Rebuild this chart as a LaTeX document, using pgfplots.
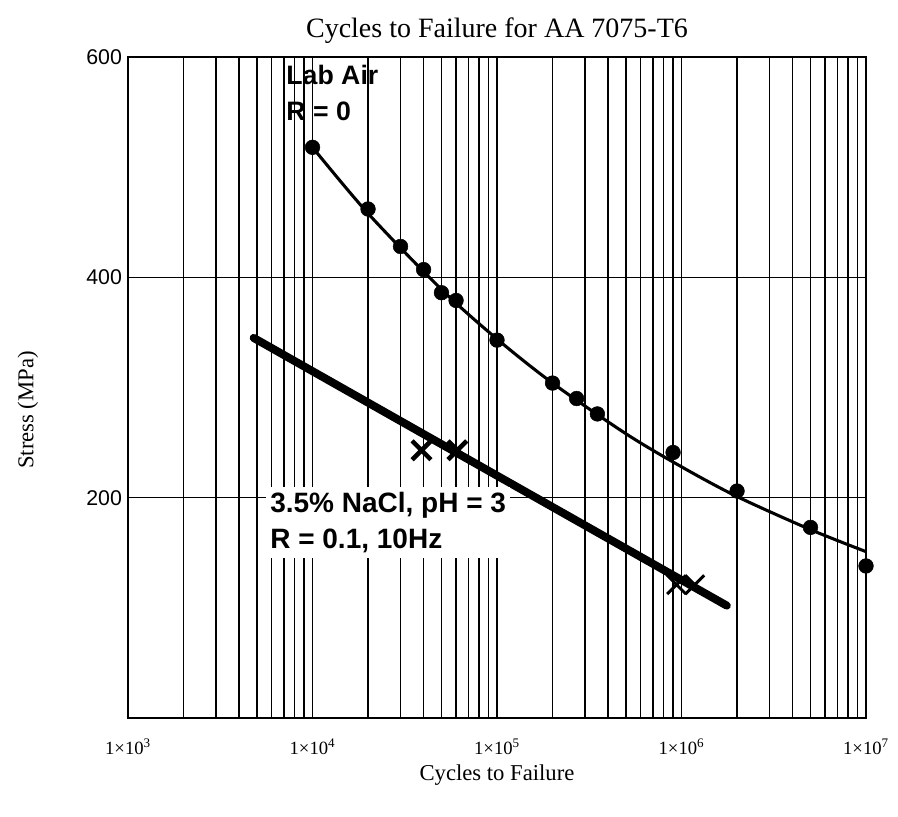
\documentclass[border=0pt]{standalone}
\usepackage{pgfplots}
\pgfplotsset{compat=1.18}
\usepackage{fontspec}
\setmainfont{Liberation Serif}
\setsansfont{Liberation Sans}

% fatigue data, lab air, R = 0
\pgfplotstableread{
N       S
1e4     518
2e4     462
3e4     428
4e4     407
5e4     386
6e4     379
1e5     343
2e5     304
2.7e5   290
3.5e5   276
9e5     241
2e6     206
5e6     173
1e7     138
}\labair

% power-law fit through the lab air data
\pgfplotstableread{
N       S
1e4     518
2e4     458
5e4     389
1e5     344
2e5     304
5e5     258
1e6     228
2e6     201
5e6     171
1e7     151
}\labairfit

% corrosion fatigue trend, 3.5% NaCl
\pgfplotstableread{
N       S
4.8e3   345
1e5     220
1.76e6  102
}\naclfit

% failures in 3.5% NaCl
\pgfplotstableread{
N       S
3.9e4   243
6.1e4   243
}\naclhigh
\pgfplotstableread{
N       S
9.4e5   121
1.18e6  121
}\nacllow

\begin{document}
\begin{tikzpicture}
\begin{axis}[
  scale only axis,
  width=553.5pt, height=495.75pt,
  xmode=log,
  xmin=1e3, xmax=1e7,
  ymin=0, ymax=600,
  log basis x=10,
  xtick={1e3,1e4,1e5,1e6,1e7},
  minor xtick={2e3,3e3,4e3,5e3,6e3,7e3,8e3,9e3,
               2e4,3e4,4e4,5e4,6e4,7e4,8e4,9e4,
               2e5,3e5,4e5,5e5,6e5,7e5,8e5,9e5,
               2e6,3e6,4e6,5e6,6e6,7e6,8e6,9e6},
  xticklabels={1×10\textsuperscript{3},1×10\textsuperscript{4},1×10\textsuperscript{5},1×10\textsuperscript{6},1×10\textsuperscript{7}},
  ytick={200,400,600},
  yticklabels={200,400,600},
  major tick length=0pt, minor tick length=0pt,
  xmajorgrids=true, xminorgrids=true, ymajorgrids=true,
  major grid style={black, line width=1pt},
  minor grid style={black, line width=1pt},
  axis line style={black, line width=1.1pt},
  xticklabel style={font=\fontsize{14}{16}\selectfont, yshift=-12pt},
  yticklabel style={font=\sffamily\fontsize{16}{18}\selectfont, xshift=-1pt},
  clip=false,
]
\addplot[black, line width=2.3pt, smooth] table[x=N, y=S] {\labairfit};
\addplot[only marks, mark=*, mark size=5.5pt, black] table[x=N, y=S] {\labair};
\addplot[black, line width=6pt, line cap=round] table[x=N, y=S] {\naclfit};
\addplot[only marks, mark=x, mark size=10pt, black, mark options={line width=3.4pt}] table[x=N, y=S] {\naclhigh};
\addplot[only marks, mark=x, mark size=10pt, black, mark options={line width=2.2pt}] table[x=N, y=S] {\nacllow};

\node[anchor=north west, inner sep=0pt, align=left, font=\sffamily\bfseries\fontsize{20}{27}\selectfont]
  at (axis cs:7.2e3,593) {Lab Air\\R = 0};
\node[anchor=north west, fill=white, inner xsep=3pt, inner ysep=4pt, align=left, font=\sffamily\bfseries\fontsize{21}{27}\selectfont]
  at (axis cs:5.6e3,210) {3.5\% NaCl, pH = 3\\R = 0.1, 10Hz};

\node[font=\fontsize{21}{24}\selectfont] at (rel axis cs:0.5,1.0400) {Cycles to Failure for AA 7075-T6};
\node[font=\fontsize{17}{20}\selectfont] at (rel axis cs:0.5,-0.0862) {Cycles to Failure};
\node[font=\fontsize{17}{20}\selectfont, rotate=90] at (rel axis cs:-0.1355,0.466) {Stress (MPa)};

\coordinate (bl) at (rel axis cs:-0.17344,-0.14977);
\coordinate (tr) at (rel axis cs:1.04336,1.08623);
\end{axis}
\pgfresetboundingbox
\path[use as bounding box] (bl) rectangle (tr);
\end{tikzpicture}
\end{document}
